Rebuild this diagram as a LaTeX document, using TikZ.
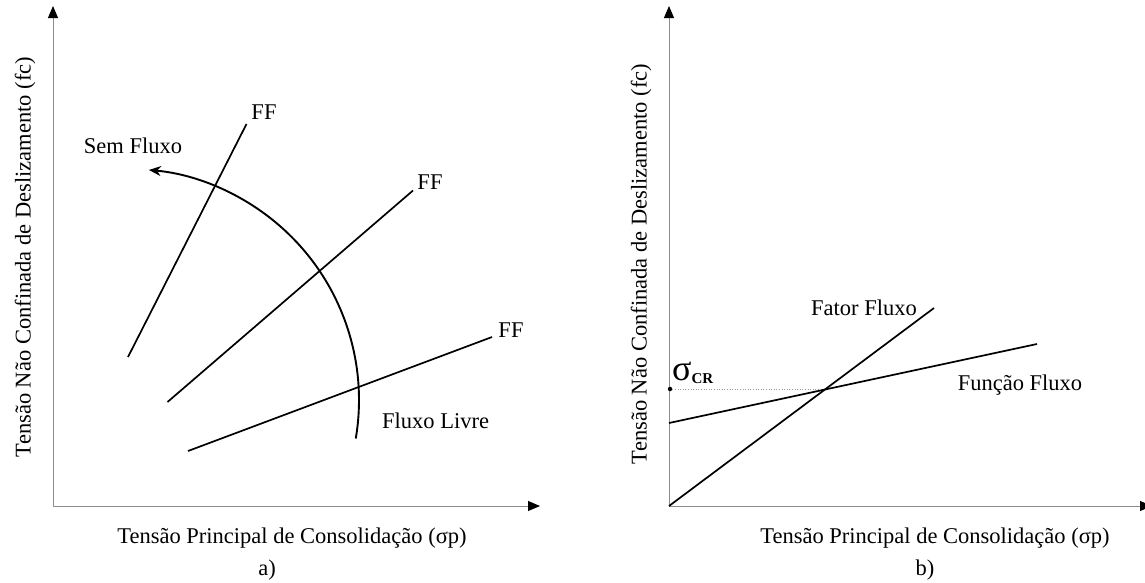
\documentclass[tikz,border=0pt]{standalone}
\usepackage{fontspec}
\setmainfont{Liberation Serif}
\usetikzlibrary{arrows.meta}
\tikzset{
  eixo/.style={draw=black!45, line width=0.9pt,
    -{Triangle[length=12pt, width=10pt, color=black]}},
  reta/.style={draw=black, line width=1.7pt},
  curva/.style={draw=black, line width=1.9pt, -{Stealth[length=12pt, width=10pt]}},
  guia/.style={draw=black!40, line width=0.6pt, dotted},
  rotulo/.style={font=\fontsize{22.5}{26}\selectfont, inner sep=0pt},
  ponto/.style={circle, fill=black, inner sep=0pt, minimum size=4.5pt}
}
\begin{document}
\begin{tikzpicture}[x=1pt, y=-1pt]
  \useasboundingbox (0,0) rectangle (1145,582);
  % (a) eixos
  \coordinate (Oa) at (53,506);
  \coordinate (Ya) at (53,6);
  \coordinate (Xa) at (540,506);
  \draw[eixo] (Oa) -- (Ya);
  \draw[eixo] (Oa) -- (Xa);
  \node[rotulo, rotate=90] (ylaba) at (25,257) {Tensão Não Confinada de Deslizamento (fc)};
  \node[rotulo, anchor=base] (xlaba) at (292,543) {Tensão Principal de Consolidação (σp)};
  \node[rotulo, anchor=base] (capa) at (267,575) {a)};
  % (a) retas FF
  \coordinate (ff1i) at (128,357);
  \coordinate (ff1f) at (246.5,124);
  \coordinate (ff2i) at (167.5,402);
  \coordinate (ff2f) at (413,190.5);
  \coordinate (ff3i) at (188,451);
  \coordinate (ff3f) at (492,337);
  \draw[reta] (ff1i) -- (ff1f);
  \draw[reta] (ff2i) -- (ff2f);
  \draw[reta] (ff3i) -- (ff3f);
  \node[rotulo] (ffa) at (264,112) {FF};
  \node[rotulo] (ffb) at (430,182) {FF};
  \node[rotulo] (ffc) at (511,330) {FF};
  % (a) arco
  \coordinate (centro) at (128,400);
  \draw[curva] (centro) ++(9.6:231) arc[start angle=9.6, end angle=-84.8, radius=231];
  \node[rotulo, anchor=base] (sem) at (133,153) {Sem Fluxo};
  \node[rotulo, anchor=base west] (livre) at (382,428) {Fluxo Livre};
  % (b) eixos
  \coordinate (Ob) at (669,506);
  \coordinate (Yb) at (669,6);
  \coordinate (Xb) at (1152,506);
  \draw[eixo] (Ob) -- (Yb);
  \draw[eixo] (Ob) -- (Xb);
  \node[rotulo, rotate=90] (ylabb) at (641,264) {Tensão Não Confinada de Deslizamento (fc)};
  \node[rotulo, anchor=base] (xlabb) at (935,543) {Tensão Principal de Consolidação (σp)};
  \node[rotulo, anchor=base] (capb) at (925,575) {b)};
  % (b) fator e funcao fluxo
  \coordinate (fatf) at (934,308);
  \coordinate (funi) at (669,423);
  \coordinate (funf) at (1037,344);
  \coordinate (cruz) at (827,389);
  \node[ponto] (cr) at (670,389) {};
  \draw[guia] (cr) -- (cruz);
  \draw[reta] (Ob) -- (fatf);
  \draw[reta] (funi) -- (funf);
  \node[rotulo, anchor=base west] (fator) at (811,315) {Fator Fluxo};
  \node[rotulo, anchor=base] (funcao) at (1020,390) {Função Fluxo};
  \node[inner sep=0pt, anchor=base west] (sigcr) at (672,380)
    {\fontsize{36}{36}\selectfont σ\raisebox{-3pt}{\fontsize{15}{15}\selectfont\bfseries CR}};
\end{tikzpicture}
\end{document}
